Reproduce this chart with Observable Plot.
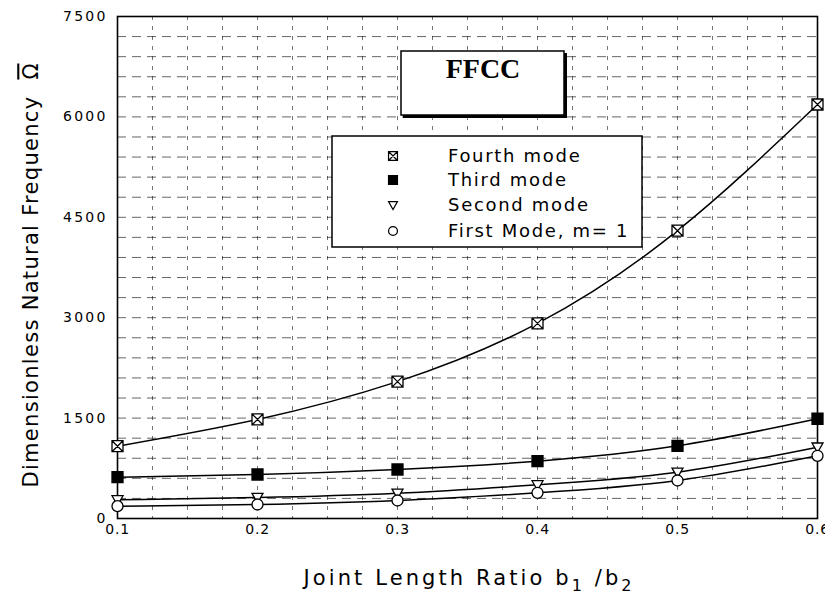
<!DOCTYPE html>
<html>
<head>
<meta charset="utf-8">
<script src="https://cdn.jsdelivr.net/npm/d3@7"></script>
<script src="https://cdn.jsdelivr.net/npm/@observablehq/plot@0.6"></script>
<style>
  html, body { margin: 0; padding: 0; background: #fff; }
  #wrap { position: relative; width: 825px; height: 605px; overflow: hidden; }
</style>
</head>
<body>
<div id="wrap"></div>
<script>
// ---- data ----
const ratio = [0.1, 0.2, 0.3, 0.4, 0.5, 0.6];
const fourthMode = [1080, 1480, 2045, 2915, 4300, 6185];
const thirdMode  = [617, 657, 732, 856, 1086, 1490];
const secondMode = [279, 314, 378, 503, 692, 1066];
const firstMode  = [184, 209, 269, 384, 568, 937];
const modeNames = ["Fourth mode", "Third mode", "Second mode", "First Mode, m= 1"];
const yTicks = [0, 1500, 3000, 4500, 6000, 7500];
const xTicks = [0.1, 0.2, 0.3, 0.4, 0.5, 0.6];
const chartTitle = "FFCC";
const xTitleParts = ["Joint Length Ratio b", "1", " /b", "2"];
const yTitleParts = ["Dimensionless Natural Frequency", "\u03A9"];

// ---- symbols ----
const rad = s => Math.sqrt(s / Math.PI);
const symBoxX = {draw(c, s) { const r = rad(s); c.moveTo(-r, -r); c.lineTo(r, -r); c.lineTo(r, r); c.lineTo(-r, r); c.closePath();
  c.moveTo(-r, -r); c.lineTo(r, r); c.moveTo(r, -r); c.lineTo(-r, r); }};
const symSquare = {draw(c, s) { const r = rad(s); c.moveTo(-r, -r); c.lineTo(r, -r); c.lineTo(r, r); c.lineTo(-r, r); c.closePath(); }};
const symTriDown = {draw(c, s) { const r = rad(s); c.moveTo(-r, -r * 0.75); c.lineTo(r, -r * 0.75); c.lineTo(0, r); c.closePath(); }};
const symCircle = {draw(c, s) { const r = rad(s); c.moveTo(r, 0); c.arc(0, 0, r, 0, 2 * Math.PI); }};

const seriesDefs = [
  {name: modeNames[0], values: fourthMode, symbol: symBoxX, fill: "#fff"},
  {name: modeNames[1], values: thirdMode, symbol: symSquare, fill: "#000"},
  {name: modeNames[2], values: secondMode, symbol: symTriDown, fill: "#fff"},
  {name: modeNames[3], values: firstMode, symbol: symCircle, fill: "#fff"}
];
const table = seriesDefs.map(s => ratio.map((x, i) => ({mode: s.name, x, y: s.values[i]})));

const xTitleText = xTitleParts.join("");
const yTitleText = yTitleParts.join(" ");

const marks = [
  Plot.gridY(d3.range(0, 7501, 300), {stroke: "#000", strokeOpacity: 0.6, strokeDasharray: "9,6"}),
  Plot.gridX(d3.range(0, 21).map(i => 0.1 + i * 0.025), {stroke: "#000", strokeOpacity: 0.55, strokeDasharray: "4,6"}),
  Plot.axisY(yTicks, {tickSize: 0, tickPadding: 10, tickFormat: d => String(d), fontSize: 14, label: null}),
  Plot.axisX(xTicks, {tickSize: 0, tickPadding: 6, tickFormat: d3.format(".1f"), fontSize: 14, label: null}),
  Plot.frame({stroke: "#000", strokeWidth: 1.6}),
];
seriesDefs.forEach((s, k) => {
  marks.push(Plot.line(table[k], {x: "x", y: "y", curve: "natural", stroke: "#000", strokeWidth: 1.5}));
});
seriesDefs.forEach((s, k) => {
  marks.push(Plot.dot(table[k], {x: "x", y: "y", symbol: () => s.symbol, r: 5.5, fill: s.fill, stroke: "#000", strokeWidth: 1.3}));
});
marks.push(Plot.text([xTitleText], {text: d => d, frameAnchor: "bottom", dy: 66, fontSize: 21, fill: "#000"}));
marks.push(Plot.text([yTitleText], {text: d => d, frameAnchor: "left", textAnchor: "middle", dx: -86, dy: 8, rotate: -90, fontSize: 21, fill: "#000"}));

const chart = Plot.plot({
  width: 825, height: 605,
  marginLeft: 117, marginRight: 8, marginTop: 16, marginBottom: 87,
  x: {domain: [0.1, 0.6]},
  y: {domain: [0, 7500]},
  style: {fontFamily: "DejaVu Sans, sans-serif", fontSize: "14px", color: "#000", background: "#fff"},
  marks
});
document.getElementById("wrap").appendChild(chart);
const svg = d3.select(chart);

// widen fonts to match the reference's wide typeface
svg.selectAll("g[aria-label='y-axis tick label'] text").style("letter-spacing", "2.2px");
svg.selectAll("g[aria-label='x-axis tick label'] text").style("letter-spacing", "0.8px");

const byContent = str => svg.selectAll("text").filter(function() { return this.textContent === str; });

// x title with subscripts
const xt = byContent(xTitleText);
xt.text(null);
xt.append("tspan").text(xTitleParts[0]);
xt.append("tspan").attr("dy", 6).attr("font-size", 16).text(xTitleParts[1]);
xt.append("tspan").attr("dy", -6).text(xTitleParts[2]);
xt.append("tspan").attr("dy", 6).attr("font-size", 16).text(xTitleParts[3]);
xt.attr("textLength", 328).attr("lengthAdjust", "spacing");

// y title with overlined Omega
const yt = byContent(yTitleText);
yt.text(null);
yt.append("tspan").text(yTitleParts[0]);
yt.append("tspan").attr("dx", 16).style("text-decoration", "overline").text(yTitleParts[1]);
yt.attr("textLength", 424).attr("lengthAdjust", "spacing");

// title box
const tg = svg.append("g");
tg.append("rect").attr("x", 403).attr("y", 53).attr("width", 164).attr("height", 65).attr("fill", "#000");
tg.append("rect").attr("x", 401).attr("y", 51).attr("width", 163).attr("height", 64).attr("fill", "#fff").attr("stroke", "#000").attr("stroke-width", 1.5);
tg.append("text").attr("x", 483).attr("y", 78).attr("text-anchor", "middle")
  .attr("font-family", "Liberation Serif, Times New Roman, serif").attr("font-weight", "bold").attr("font-size", 28).attr("fill", "#000").text(chartTitle);

// legend
const lg = svg.append("g").attr("text-anchor", "start");
lg.append("rect").attr("x", 332).attr("y", 136).attr("width", 310).attr("height", 111).attr("fill", "#fff").attr("stroke", "#000").attr("stroke-width", 1.5);
const baselines = [162, 186, 211, 237];
seriesDefs.forEach((s, k) => {
  lg.append("path").attr("transform", `translate(393,${baselines[k] - 6})`)
    .attr("d", d3.symbol(s.symbol, Math.PI * 20)()).attr("fill", s.fill).attr("stroke", "#000").attr("stroke-width", 1.2);
  lg.append("text").attr("x", 448).attr("y", baselines[k]).attr("text-anchor", "start").attr("font-family", "DejaVu Sans, sans-serif")
    .attr("font-size", 18).style("letter-spacing", "1.7px").attr("fill", "#000").text(s.name);
});
</script>
</body>
</html>
